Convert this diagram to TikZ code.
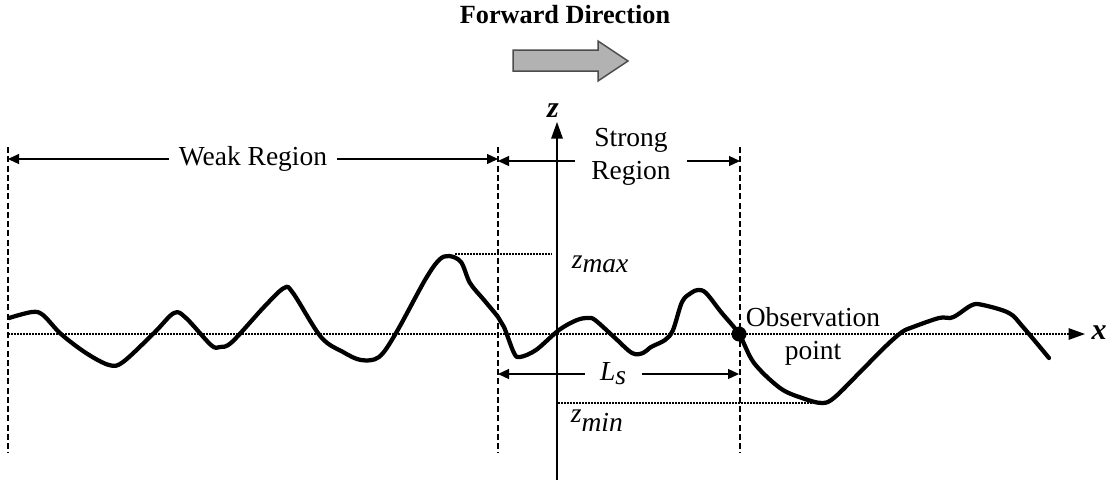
\documentclass[tikz,border=0pt]{standalone}
\usepackage{fontspec}
\setmainfont{Liberation Serif}
\usepackage{tikz}
\usetikzlibrary{arrows.meta}

\begin{document}
\begin{tikzpicture}[
    x=0.4pt,y=-0.4pt,
    regionline/.style={line width=1pt,dash pattern=on 2.4pt off 1.3pt},
    dimarrow/.style={{Triangle[length=4.4pt,width=4pt]}-{Triangle[length=4.4pt,width=4pt]},line width=0.5pt},
    axis/.style={-{Triangle[length=6.6pt,width=4.6pt]},line width=0.5pt},
    levelline/.style={line width=0.6pt,dash pattern=on 0.6pt off 0.6pt},
    lbl/.style={fill=white,font=\fontsize{11}{13.2}\selectfont,align=center,inner ysep=1pt},
    profile/.style={line width=1.7pt,line join=round,line cap=round},
    fwdarrow/.style={fill=black!30,draw=black!70,line width=0.6pt}
  ]
    \useasboundingbox (0,0) rectangle (1117,487);
    % title and direction arrow
    \node[font=\fontsize{10.5}{12}\selectfont\bfseries] (title) at (565,15) {Forward Direction};
    \draw[fwdarrow] (513,50) -- (598,50) -- (598,41) -- (628,61) -- (598,81) -- (598,71) -- (513,71) -- cycle;
    % region borders
    \coordinate (leftT) at (8,147);   \coordinate (leftB) at (8,453);
    \coordinate (midT) at (498,147);  \coordinate (midB) at (498,453);
    \coordinate (rightT) at (740,147); \coordinate (rightB) at (740,453);
    \draw[regionline] (leftT) -- (leftB);
    \draw[regionline] (midT) -- (midB);
    \draw[regionline] (rightT) -- (rightB);
    % axes
    \coordinate (zfoot) at (557,480); \coordinate (ztip) at (557,122);
    \coordinate (xfoot) at (8,334);   \coordinate (xtip) at (1085,334);
    \draw[axis] (zfoot) -- (ztip);
    \draw[axis,levelline] (xfoot) -- (xtip);
    \node[font=\fontsize{12}{14}\selectfont] (zlbl) at (553,111) {\textbf{\textit{z}}};
    \node[font=\fontsize{12}{14}\selectfont] (xlbl) at (1099,333) {\textbf{\textit{x}}};
    % region widths
    \draw[dimarrow] (8,159) -- (498,159)
      node[lbl,midway,inner xsep=4pt] (weaklbl) {Weak Region};
    \draw[dimarrow] (498,161) -- (740,161);
    \node[lbl,inner xsep=6.5pt] (stronglbl) at (631,157) {Strong\\Region};
    \draw[dimarrow] (498,374) -- (739,374)
      node[lbl,pos=0.48,inner xsep=6pt] (lslbl) {\textit{L}$_{\textit{s}}$};
    % extreme heights
    \coordinate (zmaxA) at (455,254); \coordinate (zmaxB) at (552,254);
    \coordinate (zminA) at (558,403); \coordinate (zminB) at (822,403);
    \draw[levelline] (zmaxA) -- (zmaxB);
    \draw[levelline] (zminA) -- (zminB);
    \node[anchor=west,font=\fontsize{11}{13}\selectfont] (zmaxlbl) at (563,264) {\textit{z}$_{\textit{max}}$};
    \node[anchor=west,font=\fontsize{11}{13}\selectfont] (zminlbl) at (562,421) {\textit{z}$_{\textit{min}}$};
    % surface profile
    \draw[profile] plot[smooth,tension=0.55] coordinates {
      (9,318) (32,312) (43,315) (61,334) (86,353) (109,365) (123,362) (154,333)
      (174,313) (186,318) (211,345) (220,347) (232,342) (264,307) (284,288)
      (293,293) (321,337) (343,352) (361,360) (379,357) (396,333) (425,280)
      (439,260) (449,256) (461,262) (470,283) (484,300) (498,317) (504,327)
      (514,353) (520,357) (536,350) (559,330) (577,320) (588,318) (595,320)
      (614,337) (632,353) (643,353) (651,347) (665,340) (673,330) (682,302)
      (691,293) (698,290) (706,293) (721,312) (739,334) (754,363) (780,388)
      (802,398) (822,403) (835,397) (865,367) (887,345) (902,332) (913,327)
      (939,318) (950,318) (957,315) (972,305) (983,305) (1009,313) (1023,327)
      (1049,358)};
    % observation point
    \fill (739,334) circle[radius=7.5] coordinate (obs);
    \node[font=\fontsize{11}{13.2}\selectfont,align=center] (obslbl) at (813,336) {Observation\\point};
  \end{tikzpicture}
\end{document}
